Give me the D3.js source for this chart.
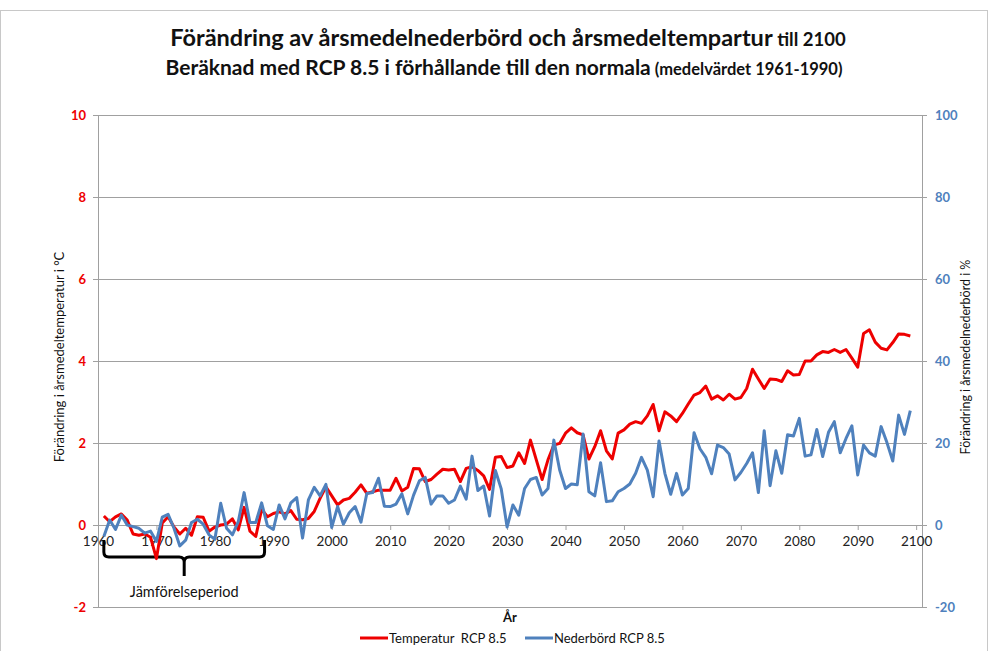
<!DOCTYPE html>
<html>
<head>
<meta charset="utf-8">
<script src="https://cdn.jsdelivr.net/npm/d3@7"></script>
<style>
  body { margin: 0; background: #fff; }
  svg { display: block; font-family: Lato, "Open Sans", sans-serif; }
</style>
</head>
<body>
<script>
// klimatdiagram: temperatur och nederbörd RCP 8.5
const width = 992;
const height = 651;
const margin = {top: 115, right: 70, bottom: 44, left: 98};

const firstYear = 1961; // första året i serierna

// Förändring i årsmedeltemperatur (°C), 1961-2099
const temperatur = [
  0.22, 0.08, 0.2, 0.27, 0.12, -0.22, -0.25, -0.22, -0.3, -0.82,
  0.05, 0.2, -0.05, -0.22, -0.08, -0.25, 0.2, 0.19, -0.15, -0.05,
  0.0, 0.02, 0.15, -0.12, 0.43, -0.15, -0.28, 0.38, 0.2, 0.28,
  0.32, 0.27, 0.35, 0.14, 0.13, 0.16, 0.33, 0.65, 0.93, 0.71,
  0.49, 0.61, 0.65, 0.8, 0.98, 0.77, 0.81, 0.85, 0.85, 0.85,
  1.14, 0.83, 0.92, 1.38, 1.37, 1.06, 1.11, 1.24, 1.36, 1.34,
  1.36, 1.06, 1.38, 1.42, 1.33, 1.2, 0.87, 1.65, 1.67, 1.4,
  1.44, 1.76, 1.5, 2.07, 1.59, 1.11, 1.59, 1.95, 1.99, 2.24,
  2.37, 2.25, 2.2, 1.61, 1.91, 2.3, 1.81, 1.61, 2.24, 2.32,
  2.46, 2.52, 2.48, 2.66, 2.94, 2.3, 2.76, 2.66, 2.52, 2.72,
  2.95, 3.17, 3.23, 3.39, 3.07, 3.15, 3.05, 3.19, 3.07, 3.11,
  3.33, 3.8, 3.56, 3.33, 3.56, 3.55, 3.5, 3.76, 3.66, 3.67,
  4.0, 4.0, 4.15, 4.23, 4.21, 4.28, 4.21, 4.28, 4.07, 3.85,
  4.67, 4.76, 4.46, 4.31, 4.27, 4.45, 4.66, 4.65, 4.61
];

// Förändring i årsmedelnederbörd (%), 1961-2099
const nederbord = [
  -2.8, 1.2, -1.1, 2.4, 0, -0.4, -0.8, -2, -1.5, -4,
  1.9, 2.6, -0.8, -5.1, -3.7, 0.6, 1.4, 0.2, -2.4, -3.5,
  5.3, -0.8, -2.4, 0.8, 7.9, 0.6, 0.6, 5.4, -0.2, -1.1,
  4.9, 1.5, 5.4, 6.7, -3.2, 6.1, 9.2, 7.1, 9.9, -0.6,
  4.5, 0.2, 3, 4.5, 0.7, 7.7, 7.9, 11.4, 4.6, 4.5,
  5.1, 7.6, 2.7, 7.3, 10.8, 11.6, 5.1, 7.1, 7.1, 5.3,
  6.1, 9.5, 6.3, 16.8, 8.4, 9.5, 2.2, 13.3, 8.8, -0.5,
  4.9, 2.4, 8.9, 11.1, 11.6, 7.3, 8.9, 20.7, 13.4, 8.9,
  10, 9.8, 22.2, 8.1, 7.1, 15.2, 5.7, 5.9, 8.1, 8.9,
  10, 12.6, 16.5, 13.4, 6.9, 20.5, 12.6, 7.5, 12.6, 7.3,
  8.9, 22.5, 18.6, 16.5, 12.5, 19.5, 18.9, 17.3, 11, 12.8,
  15, 17.6, 7.9, 23, 9.6, 18.1, 12.6, 22, 21.7, 26,
  16.8, 17.1, 23.3, 16.7, 22.6, 25.2, 17.6, 21.1, 24.2, 12.2,
  19.5, 17.6, 16.8, 24, 20.1, 15.6, 26.8, 22.1, 27.9
];

const xTicks = [1960, 1970, 1980, 1990, 2000, 2010, 2020, 2030, 2040, 2050, 2060, 2070, 2080, 2090, 2100];
const tempTicks = [-2, 0, 2, 4, 6, 8, 10];
const precTicks = [-20, 0, 20, 40, 60, 80, 100];
const period = [1961, 1988.5]; // Jämförelseperiod (klammern)

const redColor = "#ee0000";
const blueColor = "#4f81bd";
const gridColor = "#a0a0a0";

const data = temperatur.map((t, i) => ({year: firstYear + i, temp: t, prec: nederbord[i]}));

// x-axeln: år
const x = d3.scaleLinear()
    .domain([1960, 2101])
    .range([margin.left, width - margin.right]);

// vänster y-axel: temperatur
const yT = d3.scaleLinear()
    .domain([-2, 10])
    .range([height - margin.bottom, margin.top]);

// höger y-axel: nederbörd
const yP = d3.scaleLinear()
    .domain([-20, 100])
    .range([height - margin.bottom, margin.top]);

const svg = d3.select("body").append("svg")
    .attr("width", width)
    .attr("height", height);

// ram runt diagrammet
svg.append("rect")
    .attr("x", 0.5).attr("y", 10.5)
    .attr("width", width - 5).attr("height", height - 10)
    .attr("fill", "none")
    .attr("stroke", "#c8c8c8");

// titel
const title = svg.append("text")
    .attr("x", 508).attr("y", 46)
    .attr("text-anchor", "middle")
    .attr("font-weight", "bold")
    .attr("fill", "#111");
title.append("tspan").attr("font-size", 23.5).text("Förändring av årsmedelnederbörd och årsmedeltempartur");
title.append("tspan").attr("font-size", 18.5).text(" till 2100");

const sub = svg.append("text")
    .attr("x", 504).attr("y", 75)
    .attr("text-anchor", "middle")
    .attr("font-weight", "bold")
    .attr("fill", "#111");
sub.append("tspan").attr("font-size", 21).text("Beräknad med RCP 8.5 i förhållande till den normala");
sub.append("tspan").attr("font-size", 16.5).text(" (medelvärdet 1961-1990)");

// stödlinjer + vänster axel
svg.append("g")
    .attr("transform", `translate(${margin.left},0)`)
    .call(d3.axisLeft(yT).tickValues(tempTicks).tickFormat(d => String(d)).tickSize(5).tickPadding(7))
    .call(g => g.select(".domain").attr("stroke", gridColor))
    .call(g => g.selectAll(".tick line").attr("stroke", gridColor))
    .call(g => g.selectAll(".tick").filter(d => d !== 0).append("line")
        .attr("x2", width - margin.right - margin.left)
        .attr("stroke", gridColor))
    .call(g => g.selectAll(".tick text")
        .attr("fill", redColor)
        .attr("font-weight", "bold")
        .attr("font-size", 13)
        .attr("font-family", "Lato, sans-serif"));

// höger axel
svg.append("g")
    .attr("transform", `translate(${width - margin.right},0)`)
    .call(d3.axisRight(yP).tickValues(precTicks).tickFormat(d => String(d)).tickSize(5).tickPadding(8))
    .call(g => g.select(".domain").attr("stroke", gridColor))
    .call(g => g.selectAll(".tick line").attr("stroke", gridColor))
    .call(g => g.selectAll(".tick text")
        .attr("fill", blueColor)
        .attr("font-weight", "bold")
        .attr("font-size", 13)
        .attr("font-family", "Lato, sans-serif"));

// x-axeln ligger vid noll
svg.append("g")
    .attr("transform", `translate(0,${yT(0)})`)
    .call(d3.axisBottom(x).tickValues(xTicks).tickFormat(d => String(d)).tickSize(5).tickPadding(6).tickSizeOuter(0))
    .call(g => g.select(".domain").attr("stroke", gridColor))
    .call(g => g.selectAll(".tick line").attr("stroke", gridColor))
    .call(g => g.selectAll(".tick text")
        .attr("fill", "#222")
        .attr("font-size", 13.5)
        .attr("font-family", "Lato, sans-serif"));

// axeltitlar
svg.append("text")
    .attr("transform", `translate(64,${yT(4) - 4}) rotate(-90)`)
    .attr("text-anchor", "middle")
    .attr("font-size", 13)
    .attr("fill", "#111")
    .text("Förändring i årsmedeltemperatur i °C");

svg.append("text")
    .attr("transform", `translate(970,${yT(4) - 4}) rotate(-90)`)
    .attr("text-anchor", "middle")
    .attr("font-size", 12.5)
    .attr("fill", "#111")
    .text("Förändring i årsmedelnederbörd i %");

svg.append("text")
    .attr("x", 510).attr("y", 622)
    .attr("text-anchor", "middle")
    .attr("font-size", 13)
    .attr("font-weight", "bold")
    .attr("fill", "#111")
    .text("År");

// klammer för jämförelseperioden
const bx1 = x(period[0]), bx2 = x(period[1]), bxm = (bx1 + bx2) / 2;
const by0 = yT(0) + 15, by1 = yT(0) + 32, by2 = yT(0) + 51;
const brace = d3.path();
brace.moveTo(bx1, by0);
brace.lineTo(bx1, by1 - 5);
brace.quadraticCurveTo(bx1, by1, bx1 + 5, by1);
brace.lineTo(bxm - 5, by1);
brace.quadraticCurveTo(bxm, by1, bxm, by1 + 5);
brace.lineTo(bxm, by2);
brace.moveTo(bxm, by1 + 5);
brace.quadraticCurveTo(bxm, by1, bxm + 5, by1);
brace.lineTo(bx2 - 5, by1);
brace.quadraticCurveTo(bx2, by1, bx2, by1 - 5);
brace.lineTo(bx2, by0);
svg.append("path")
    .attr("d", brace.toString())
    .attr("fill", "none")
    .attr("stroke", "#000")
    .attr("stroke-width", 3);

svg.append("text")
    .attr("x", bxm).attr("y", 597)
    .attr("text-anchor", "middle")
    .attr("font-size", 14.5)
    .attr("fill", "#111")
    .text("Jämförelseperiod");

// linjerna
const tempLine = d3.line()
    .x(d => x(d.year))
    .y(d => yT(d.temp));

const precLine = d3.line()
    .x(d => x(d.year))
    .y(d => yP(d.prec));

svg.append("path")
    .datum(data)
    .attr("fill", "none")
    .attr("stroke", redColor)
    .attr("stroke-width", 3)
    .attr("stroke-linejoin", "round")
    .attr("d", tempLine);

svg.append("path")
    .datum(data)
    .attr("fill", "none")
    .attr("stroke", blueColor)
    .attr("stroke-width", 3)
    .attr("stroke-linejoin", "round")
    .attr("d", precLine);

// teckenförklaring
const legendItems = [
    {label: "Temperatur  RCP 8.5", color: redColor, x: 360},
    {label: "Nederbörd RCP 8.5", color: blueColor, x: 525}
];
const legend = svg.append("g").attr("transform", "translate(0,638)");
legendItems.forEach(item => {
    legend.append("line")
        .attr("x1", item.x).attr("x2", item.x + 28)
        .attr("stroke", item.color)
        .attr("stroke-width", 3);
    legend.append("text")
        .attr("x", item.x + 29).attr("y", 4.5)
        .attr("font-size", 13)
        .attr("fill", "#111")
        .style("white-space", "pre")
        .text(item.label);
});
</script>
</body>
</html>
